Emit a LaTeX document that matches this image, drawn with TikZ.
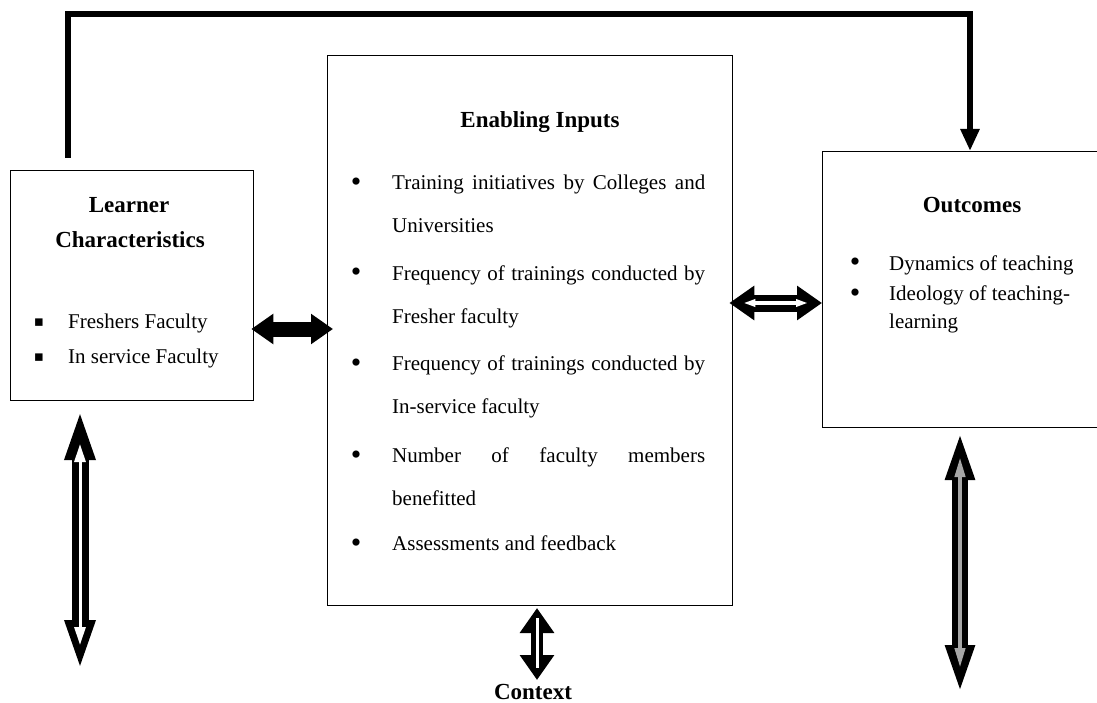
\documentclass[tikz,border=0pt]{standalone}
\usepackage{fontspec}
\setmainfont{Liberation Serif}
\newfontfamily\symfont{DejaVu Sans}
\usetikzlibrary{arrows.meta,calc}
\tikzset{
  box/.style={draw=black, line width=1.3pt, fill=none, rectangle, inner sep=0pt},
  ttl/.style={font=\fontsize{23}{28}\selectfont\bfseries, inner sep=0pt, anchor=base},
  txt/.style={font=\fontsize{21}{25}\selectfont, inner sep=0pt, anchor=base west},
  bul/.style={font=\fontsize{30}{32}\selectfont, inner sep=0pt, anchor=base},
  sqbul/.style={font=\fontsize{15}{18}\selectfont\symfont, inner sep=0pt, anchor=base},
  topconn/.style={line width=6pt, line join=miter, -{Triangle[width=18pt,length=22pt]}},
  blackarr/.style={line width=15pt, {Triangle[width=29pt,length=22pt]}-{Triangle[width=29pt,length=22pt]}},
  hollowh/.style={line width=17pt, {Triangle[width=33pt,length=25pt]}-{Triangle[width=33pt,length=25pt]}},
  hollowhin/.style={line width=4.5pt, white, {Triangle[width=7pt,length=12pt]}-{Triangle[width=7pt,length=12pt]}},
  lvert/.style={line width=17pt, {Triangle[width=27pt,length=52pt]}-{Triangle[width=27pt,length=52pt]}},
  lvertin/.style={line width=3pt, white, {Triangle[width=11pt,length=18pt]}-{Triangle[width=11pt,length=18pt]}},
  rvert/.style={line width=16pt, {Triangle[width=26pt,length=50pt]}-{Triangle[width=26pt,length=50pt]}},
  rvertin/.style={line width=4pt, gray!70, {Triangle[width=10pt,length=20pt]}-{Triangle[width=10pt,length=20pt]}},
  ctxarr/.style={line width=12pt, {Triangle[width=33pt,length=25pt]}-{Triangle[width=33pt,length=25pt]}},
  ctxin/.style={line width=3pt, white},
}
\begin{document}
\begin{tikzpicture}[x=1pt,y=-1pt]
\useasboundingbox (0,0) rectangle (1097,703);
% boxes
\node[box, anchor=north west, minimum width=243pt, minimum height=230pt] (lc) at (10,170) {};
\node[box, anchor=north west, minimum width=405pt, minimum height=550pt] (ei) at (327,55) {};
\node[box, anchor=north west, minimum width=300pt, minimum height=276pt] (oc) at (822,151) {};

% Learner characteristics
\node[ttl] (lt1) at (129,213) {Learner};
\node[ttl] (lt2) at (130,248) {Characteristics};
\node[sqbul] (lb1) at (39,326) {▪};
\node[txt] (l1) at (68,328) {Freshers Faculty};
\node[sqbul] (lb2) at (39,361) {▪};
\node[txt] (l2) at (68,363) {In service Faculty};

% Enabling inputs
\node[ttl] (et) at (540,128) {Enabling Inputs};
\node[bul] (eb1) at (356,192) {•};
\node[txt] (e1a) at (392,190) {\makebox[313pt][s]{Training initiatives by Colleges and}};
\node[txt] (e1b) at (392,233) {Universities};
\node[bul] (eb2) at (356,282) {•};
\node[txt] (e2a) at (392,280) {\makebox[313pt][s]{Frequency of trainings conducted by}};
\node[txt] (e2b) at (392,323) {Fresher faculty};
\node[bul] (eb3) at (356,372) {•};
\node[txt] (e3a) at (392,370) {\makebox[313pt][s]{Frequency of trainings conducted by}};
\node[txt] (e3b) at (392,413) {In-service faculty};
\node[bul] (eb4) at (356,464) {•};
\node[txt] (e4a) at (392,462) {\makebox[313pt][s]{Number of faculty members}};
\node[txt] (e4b) at (392,505) {benefitted};
\node[bul] (eb5) at (356,552) {•};
\node[txt] (e5a) at (392,550) {Assessments and feedback};

% Outcomes
\node[ttl] (ot) at (972,213) {Outcomes};
\node[bul] (ob1) at (855,272) {•};
\node[txt] (o1) at (889,270) {Dynamics of teaching};
\node[bul] (ob2) at (855,302) {•};
\node[txt] (o2a) at (889,300) {Ideology of teaching-};
\node[txt] (o2b) at (889,328) {learning};

% Context
\node[ttl] (ctx) at (533,699) {Context};

% coordinates
\coordinate (tl) at (68,158);
\coordinate (tc1) at (68,14);
\coordinate (tc2) at (970,14);
\coordinate (hy1) at (0,329);
\coordinate (hy2) at (0,303);
\coordinate (la1) at (80,408);
\coordinate (la2) at (80,672);
\coordinate (ra1) at (960,430);
\coordinate (ra2) at (960,695);
\coordinate (ca1) at (537,608);
\coordinate (ca2) at (537,680);

% top connector
\draw[topconn] (tl) -- (tc1) -- (tc2) -- (tc2 |- oc.north);

% horizontal arrows
\draw[blackarr] ($(lc.east |- hy1)+(-3,0)$) -- ($(ei.west |- hy1)+(6,0)$);
\draw[hollowh] ($(ei.east |- hy2)+(-4,0)$) -- (oc.west |- hy2);
\draw[hollowhin] ($(ei.east |- hy2)+(10,0)$) -- ($(oc.west |- hy2)+(-14,0)$);

% vertical arrows
\draw[lvert] (la1) -- (la2);
\draw[lvertin, shorten <=36pt, shorten >=27pt] (la1) -- (la2);
\draw[rvert] (ra1) -- (ra2);
\draw[rvertin, shorten <=27pt, shorten >=27pt] (ra1) -- (ra2);
\draw[ctxarr] (ca1) -- (ca2);
\draw[ctxin] ($(ca1)+(0,10)$) -- ($(ca2)+(0,-12)$);
\end{tikzpicture}
\end{document}
